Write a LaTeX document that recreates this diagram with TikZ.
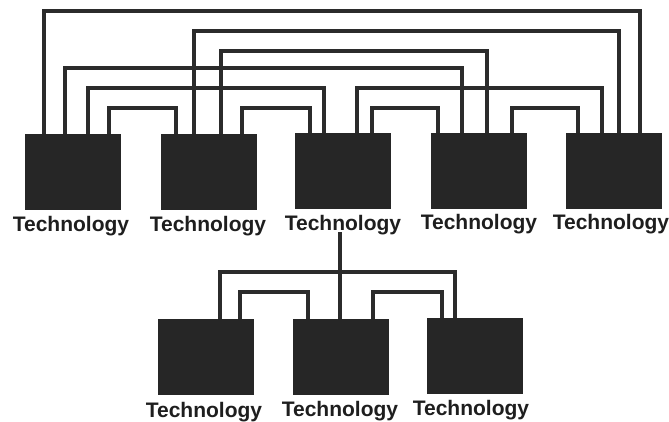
\documentclass[tikz,border=0pt]{standalone}
\usepackage{fontspec}
\setmainfont{Liberation Sans}
\begin{document}
\begin{tikzpicture}[x=1pt,y=-1pt,
  techbox/.style={draw=none,fill=boxgray,minimum width=96pt,minimum height=76pt,inner sep=0pt,outer sep=0pt},
  techlabel/.style={font=\bfseries\fontsize{21}{23}\selectfont,text=labelgray,anchor=base,inner sep=0pt},
  wire/.style={draw=wiregray,line width=4pt,line cap=butt,line join=miter}]
\definecolor{boxgray}{HTML}{262626}
\definecolor{wiregray}{HTML}{2B2B2B}
\definecolor{labelgray}{HTML}{1E1E1E}
\useasboundingbox[fill=white] (0,0) rectangle (669,421);
% top boxes
\node[techbox] (t1) at (72.5,172) {};
\node[techbox] (t2) at (209,172) {};
\node[techbox] (t3) at (343,171) {};
\node[techbox] (t4) at (479,171) {};
\node[techbox] (t5) at (614,171) {};
% bottom boxes
\node[techbox] (b1) at (205.5,357) {};
\node[techbox] (b2) at (341,357) {};
\node[techbox] (b3) at (475,356) {};
% labels
\node[techlabel] (lt1) at (71,231) {Technology};
\node[techlabel] (lt2) at (208,231) {Technology};
\node[techlabel] (lt3) at (343,230) {Technology};
\node[techlabel] (lt4) at (479,229) {Technology};
\node[techlabel] (lt5) at (611,229) {Technology};
\node[techlabel] (lb1) at (204,417) {Technology};
\node[techlabel] (lb2) at (340,416) {Technology};
\node[techlabel] (lb3) at (471,415) {Technology};
% levels
\coordinate (la) at (0,11);
\coordinate (lb) at (0,31);
\coordinate (lc) at (0,51);
\coordinate (ld) at (0,68);
\coordinate (le) at (0,88);
\coordinate (lf) at (0,108);
\coordinate (lg) at (0,272);
\coordinate (lh) at (0,292);
% ports on top boxes
\coordinate (t1a) at ([xshift=19pt]t1.north west);
\coordinate (t1b) at ([xshift=40pt]t1.north west);
\coordinate (t1c) at ([xshift=63pt]t1.north west);
\coordinate (t1d) at ([xshift=84pt]t1.north west);
\coordinate (t2a) at ([xshift=15pt]t2.north west);
\coordinate (t2b) at ([xshift=33pt]t2.north west);
\coordinate (t2c) at ([xshift=60pt]t2.north west);
\coordinate (t2d) at ([xshift=81pt]t2.north west);
\coordinate (t3a) at ([xshift=15pt]t3.north west);
\coordinate (t3b) at ([xshift=29pt]t3.north west);
\coordinate (t3c) at ([xshift=62pt]t3.north west);
\coordinate (t3d) at ([xshift=77pt]t3.north west);
\coordinate (t4a) at ([xshift=7pt]t4.north west);
\coordinate (t4b) at ([xshift=31pt]t4.north west);
\coordinate (t4c) at ([xshift=56pt]t4.north west);
\coordinate (t4d) at ([xshift=81pt]t4.north west);
\coordinate (t5a) at ([xshift=12pt]t5.north west);
\coordinate (t5b) at ([xshift=36pt]t5.north west);
\coordinate (t5c) at ([xshift=53pt]t5.north west);
\coordinate (t5d) at ([xshift=74pt]t5.north west);
% ports on bottom boxes
\coordinate (b1a) at ([xshift=62pt]b1.north west);
\coordinate (b1b) at ([xshift=82pt]b1.north west);
\coordinate (b2a) at ([xshift=15pt]b2.north west);
\coordinate (b2b) at ([xshift=47pt]b2.north west);
\coordinate (b2c) at ([xshift=80pt]b2.north west);
\coordinate (b3a) at ([xshift=15pt]b3.north west);
\coordinate (b3b) at ([xshift=28pt]b3.north west);
% top connectors
\draw[wire] (t1a) |- (t5d |- la) -- (t5d);
\draw[wire] (t2b) |- (t5c |- lb) -- (t5c);
\draw[wire] (t2c) |- (t4c |- lc) -- (t4c);
\draw[wire] (t1b) |- (t4b |- ld) -- (t4b);
\draw[wire] (t1c) |- (t3b |- le) -- (t3b);
\draw[wire] (t3c) |- (t5b |- le) -- (t5b);
\draw[wire] (t1d) |- (t2a |- lf) -- (t2a);
\draw[wire] (t2d) |- (t3a |- lf) -- (t3a);
\draw[wire] (t3d) |- (t4a |- lf) -- (t4a);
\draw[wire] (t4d) |- (t5a |- lf) -- (t5a);
% bottom connectors
\draw[wire] (b2b) -- (b2b |- 0,232);
\draw[wire] (b1a) |- (b3b |- lg) -- (b3b);
\draw[wire] (b1b) |- (b2a |- lh) -- (b2a);
\draw[wire] (b2c) |- (b3a |- lh) -- (b3a);
\end{tikzpicture}
\end{document}
